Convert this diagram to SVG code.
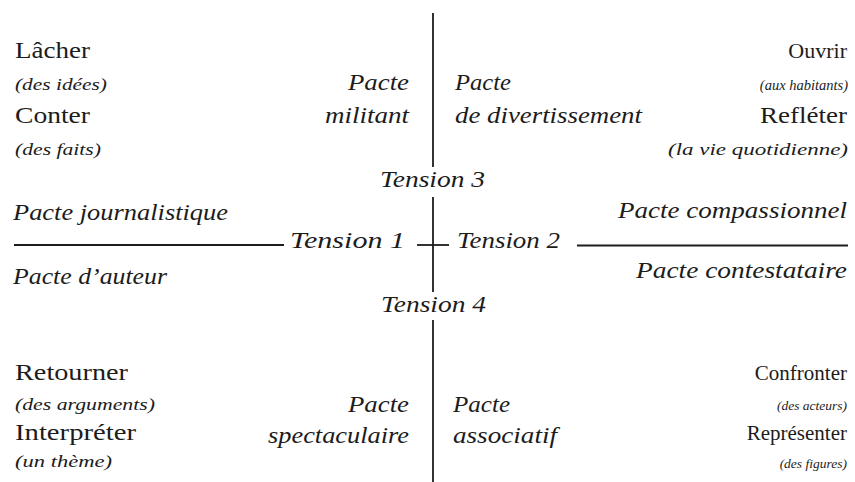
<svg xmlns="http://www.w3.org/2000/svg" width="855" height="482" viewBox="0 0 855 482">
<style>
  text { font-family: "Liberation Serif", "Times New Roman", serif; fill: #1c1c1c; }
  .verb { font-size: 23px; }
  .obj { font-size: 17px; font-style: italic; }
  .objs { font-size: 14.5px; font-style: italic; }
  .pacte { font-size: 24px; font-style: italic; }
  .tension { font-size: 24px; font-style: italic; }
  .r { text-anchor: end; }
  .axis { stroke: #1c1c1c; stroke-width: 1.8; fill: none; }
</style>
<rect width="855" height="482" fill="#ffffff"/>
<g id="connectors">
  <line class="axis" x1="433" y1="13" x2="433" y2="167"/>
  <line class="axis" x1="433" y1="197" x2="433" y2="292"/>
  <line class="axis" x1="433" y1="320" x2="433" y2="482"/>
  <line class="axis" x1="14" y1="245" x2="284" y2="245"/>
  <line class="axis" x1="417" y1="245" x2="449" y2="245"/>
  <line class="axis" x1="577" y1="245.5" x2="848" y2="245.5"/>
</g>
<g id="quadrant-top-left">
  <text class="verb" x="15" y="58" textLength="75" lengthAdjust="spacingAndGlyphs">Lâcher</text>
  <text class="obj" x="15" y="90" textLength="92" lengthAdjust="spacingAndGlyphs">(des idées)</text>
  <text class="verb" x="15" y="123" textLength="75" lengthAdjust="spacingAndGlyphs">Conter</text>
  <text class="obj" x="15" y="155" textLength="86" lengthAdjust="spacingAndGlyphs">(des faits)</text>
</g>
<g id="pacte-militant">
  <text class="pacte r" x="409" y="90" textLength="61" lengthAdjust="spacingAndGlyphs">Pacte</text>
  <text class="pacte r" x="409" y="123" textLength="84" lengthAdjust="spacingAndGlyphs">militant</text>
</g>
<g id="pacte-divertissement">
  <text class="pacte" x="455" y="90" textLength="56" lengthAdjust="spacingAndGlyphs">Pacte</text>
  <text class="pacte" x="455" y="123" textLength="187" lengthAdjust="spacingAndGlyphs">de divertissement</text>
</g>
<g id="quadrant-top-right">
  <text class="verb r" x="847" y="58" style="font-size:22px">Ouvrir</text>
  <text class="objs r" x="848" y="90">(aux habitants)</text>
  <text class="verb r" x="847" y="123" textLength="87" lengthAdjust="spacingAndGlyphs">Refléter</text>
  <text class="obj r" x="848" y="155" textLength="180" lengthAdjust="spacingAndGlyphs">(la vie quotidienne)</text>
</g>
<g id="tension-3">
  <text class="tension" x="380" y="187" textLength="105" lengthAdjust="spacingAndGlyphs">Tension 3</text>
</g>
<g id="pacte-journalistique">
  <text class="pacte" x="13" y="220" textLength="215" lengthAdjust="spacingAndGlyphs">Pacte journalistique</text>
</g>
<g id="pacte-auteur">
  <text class="pacte" x="13" y="284" textLength="154" lengthAdjust="spacingAndGlyphs">Pacte d’auteur</text>
</g>
<g id="tension-1">
  <text class="tension" x="290" y="248" textLength="115" lengthAdjust="spacingAndGlyphs">Tension 1</text>
</g>
<g id="tension-2">
  <text class="tension" x="457" y="248" textLength="103" lengthAdjust="spacingAndGlyphs">Tension 2</text>
</g>
<g id="pacte-compassionnel">
  <text class="pacte r" x="847" y="218" textLength="229" lengthAdjust="spacingAndGlyphs">Pacte compassionnel</text>
</g>
<g id="pacte-contestataire">
  <text class="pacte r" x="847" y="278" textLength="211" lengthAdjust="spacingAndGlyphs">Pacte contestataire</text>
</g>
<g id="tension-4">
  <text class="tension" x="381" y="312" textLength="105" lengthAdjust="spacingAndGlyphs">Tension 4</text>
</g>
<g id="quadrant-bottom-left">
  <text class="verb" x="15" y="380" textLength="113" lengthAdjust="spacingAndGlyphs">Retourner</text>
  <text class="obj" x="15" y="410" style="font-size:16px" textLength="140" lengthAdjust="spacingAndGlyphs">(des arguments)</text>
  <text class="verb" x="15" y="440" textLength="121" lengthAdjust="spacingAndGlyphs">Interpréter</text>
  <text class="obj" x="15" y="467" style="font-size:16px" textLength="97" lengthAdjust="spacingAndGlyphs">(un thème)</text>
</g>
<g id="pacte-spectaculaire">
  <text class="pacte r" x="409" y="412" textLength="61" lengthAdjust="spacingAndGlyphs">Pacte</text>
  <text class="pacte r" x="409" y="443" textLength="141" lengthAdjust="spacingAndGlyphs">spectaculaire</text>
</g>
<g id="pacte-associatif">
  <text class="pacte" x="453" y="412" textLength="57" lengthAdjust="spacingAndGlyphs">Pacte</text>
  <text class="pacte" x="453" y="443" textLength="104" lengthAdjust="spacingAndGlyphs">associatif</text>
</g>
<g id="quadrant-bottom-right">
  <text class="verb r" x="847" y="380" style="font-size:21px">Confronter</text>
  <text class="objs r" x="847" y="410" style="font-size:13.5px">(des acteurs)</text>
  <text class="verb r" x="847" y="440" style="font-size:21px">Représenter</text>
  <text class="objs r" x="847" y="468" style="font-size:13.5px">(des figures)</text>
</g>
</svg>
